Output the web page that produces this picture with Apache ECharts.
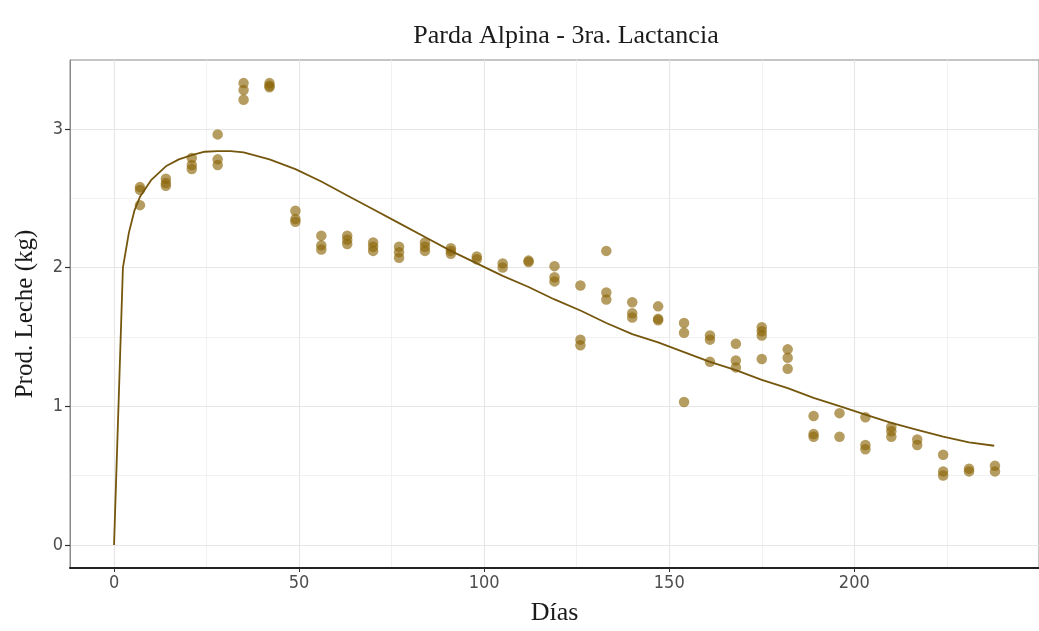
<!DOCTYPE html>
<html>
<head>
<meta charset="utf-8">
<script src="https://cdn.jsdelivr.net/npm/echarts@6/dist/echarts.min.js"></script>
<style>
html,body{margin:0;padding:0;background:#fff;}
#c{width:1039px;height:631px;}
</style>
</head>
<body>
<div id="c"></div>
<script>
// Observed points (day, milk kg)
const obsDays = [
  7,7,7, 14,14,14, 21,21,21, 28,28,28, 35,35,35, 42,42,42, 49,49,49,
  56,56,56, 63,63,63, 70,70,70, 77,77,77, 84,84,84, 91,91,91, 98,98,
  105,105, 112,112, 119,119,119, 126,126,126, 133,133,133, 140,140,140,
  147,147,147, 154,154,154, 161,161,161, 168,168,168, 175,175,175,175,
  182,182,182, 189,189,189, 196,196, 203,203,203, 210,210,210, 217,217,
  224,224,224, 231,231, 238,238
];
const obsMilk = [
  2.58,2.56,2.45, 2.64,2.61,2.59, 2.79,2.74,2.71, 2.96,2.78,2.74, 3.33,3.28,3.21, 3.33,3.31,3.30, 2.41,2.35,2.33,
  2.23,2.16,2.13, 2.23,2.20,2.17, 2.18,2.15,2.12, 2.15,2.11,2.07, 2.18,2.15,2.12, 2.14,2.12,2.10, 2.08,2.06,
  2.03,2.00, 2.05,2.04, 2.01,1.93,1.90, 1.87,1.48,1.44, 2.12,1.82,1.77, 1.75,1.67,1.64,
  1.72,1.63,1.62, 1.60,1.53,1.03, 1.51,1.48,1.32, 1.45,1.33,1.28, 1.57,1.54,1.51,1.34,
  1.41,1.35,1.27, 0.93,0.80,0.78, 0.95,0.78, 0.92,0.72,0.69, 0.85,0.82,0.78, 0.76,0.72,
  0.65,0.53,0.50, 0.55,0.53, 0.57,0.53
];
// Fitted lactation curve
const curveDays = [0, 2.4, 4, 5.5, 7, 10, 14, 17.5, 21, 24.5, 28, 31.5, 35, 42, 49, 56, 63, 70, 77, 84, 91, 98, 105, 112, 119, 126, 133, 140, 147, 154, 161, 168, 175, 182, 189, 196, 203, 210, 217, 224, 231, 237.8];
const curveMilk = [0, 2.00, 2.25, 2.41, 2.51, 2.63, 2.73, 2.78, 2.81, 2.835, 2.84, 2.84, 2.83, 2.78, 2.71, 2.62, 2.52, 2.42, 2.32, 2.22, 2.12, 2.03, 1.94, 1.86, 1.77, 1.69, 1.60, 1.52, 1.46, 1.39, 1.32, 1.26, 1.19, 1.13, 1.06, 1.00, 0.94, 0.88, 0.83, 0.78, 0.74, 0.715];
// Axis ticks
const xTicks = [0, 50, 100, 150, 200];
const xMinor = [25, 75, 125, 175, 225];
const yTicks = [0, 1, 2, 3];
const yMinor = [0.5, 1.5, 2.5];

const titleText = 'Parda Alpina - 3ra. Lactancia';
const xName = 'Días';
const yName = 'Prod. Leche (kg)';

const chart = echarts.init(document.getElementById('c'), null, {renderer: 'canvas'});

const scatterData = obsDays.map((d, i) => [d, obsMilk[i]]);
const curveData = curveDays.map((d, i) => [d, curveMilk[i]]);

const gridLines = [];
xTicks.forEach(v => gridLines.push({xAxis: v, lineStyle: {color: '#e6e6e6', width: 1.2, type: 'solid'}}));
xMinor.forEach(v => gridLines.push({xAxis: v, lineStyle: {color: '#eeeeee', width: 0.8, type: 'solid'}}));
yTicks.forEach(v => gridLines.push({yAxis: v, lineStyle: {color: '#e6e6e6', width: 1.2, type: 'solid'}}));
yMinor.forEach(v => gridLines.push({yAxis: v, lineStyle: {color: '#eeeeee', width: 0.8, type: 'solid'}}));

const xMin = -11.9, xMax = 249.9;
const yMin = -0.1665, yMax = 3.4965;
const tickFont = "'Liberation Sans Narrow', 'DejaVu Sans Condensed', 'Liberation Sans', sans-serif";

chart.setOption({
  animation: false,
  backgroundColor: '#ffffff',
  title: {
    text: titleText,
    left: 561,
    top: 18,
    textAlign: 'center',
    textStyle: {fontFamily: 'Liberation Serif', fontSize: 26, fontWeight: 'normal', color: '#1a1a1a'}
  },
  grid: {
    left: 70, top: 60, width: 983, height: 510,
    show: true, borderColor: '#8a8a8a', borderWidth: 1, backgroundColor: 'transparent'
  },
  xAxis: {
    type: 'value', min: xMin, max: xMax,
    name: xName, nameLocation: 'middle', nameGap: 32,
    nameTextStyle: {fontFamily: 'Liberation Serif', fontSize: 26, color: '#1a1a1a'},
    axisLine: {show: true, onZero: false, lineStyle: {color: '#222', width: 2}},
    axisTick: {show: true, length: 4, customValues: xTicks, lineStyle: {color: '#333', width: 1}},
    axisLabel: {customValues: xTicks, margin: 6, fontFamily: tickFont, fontSize: 18, color: '#4d4d4d'},
    splitLine: {show: false}
  },
  yAxis: {
    type: 'value', min: yMin, max: yMax,
    name: yName, nameLocation: 'middle', nameGap: 32, nameRotate: 90,
    nameTextStyle: {fontFamily: 'Liberation Serif', fontSize: 25, color: '#1a1a1a'},
    axisLine: {show: true, onZero: false, lineStyle: {color: '#8a8a8a', width: 1}},
    axisTick: {show: true, length: 5, customValues: yTicks, lineStyle: {color: '#333', width: 1.2}},
    axisLabel: {customValues: yTicks, margin: 7, fontFamily: tickFont, fontSize: 18, color: '#4d4d4d'},
    splitLine: {show: false}
  },
  series: [
    {
      type: 'line', data: [], silent: true, z: 0,
      markLine: {silent: true, z: 0, symbol: 'none', label: {show: false}, animation: false, data: gridLines}
    },
    {
      type: 'scatter', data: scatterData, symbol: 'circle', symbolSize: 10.5, z: 3,
      itemStyle: {color: 'rgba(139,101,8,0.8)'}
    },
    {
      type: 'line', data: curveData, showSymbol: false, smooth: false, z: 4,
      lineStyle: {color: '#75560d', width: 1.8}
    }
  ]
});
</script>
</body>
</html>
